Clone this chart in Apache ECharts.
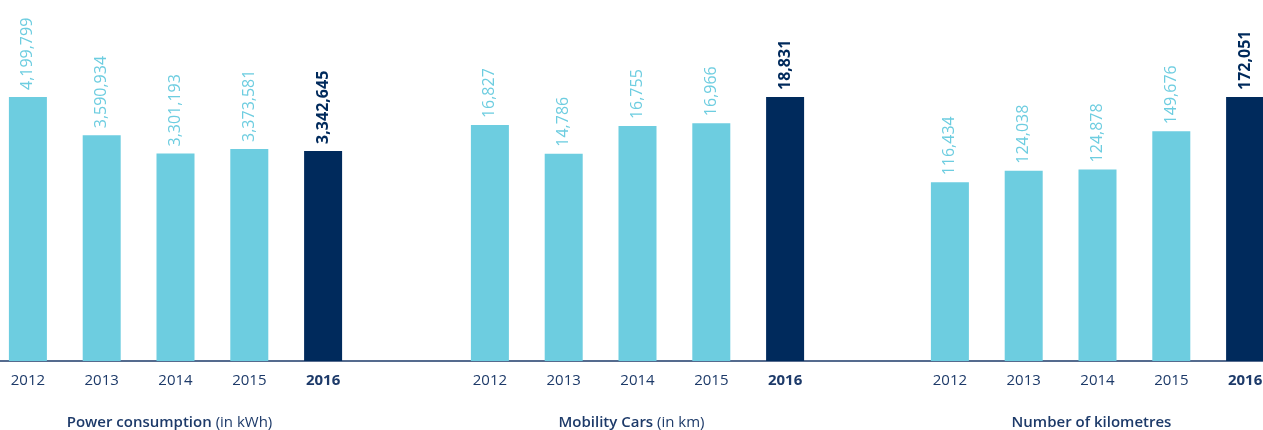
<!DOCTYPE html>
<html>
<head>
<meta charset="utf-8">
<script src="https://cdn.jsdelivr.net/npm/echarts@6/dist/echarts.min.js"></script>
<style>
html,body{margin:0;padding:0;background:#fff;}
#c{width:1263px;height:430px;}
</style>
</head>
<body>
<div id="c"></div>
<script>
const years = ['2012', '2013', '2014', '2015', '2016'];
const powerConsumption = [4199799, 3590934, 3301193, 3373581, 3342645];
const mobilityCars = [16827, 14786, 16755, 16966, 18831];
const numberOfKilometres = [116434, 124038, 124878, 149676, 172051];
const panelTitles = [
  ['Power consumption', ' (in kWh)'],
  ['Mobility Cars', ' (in km)'],
  ['Number of kilometres', '']
];

const LIGHT = '#6dcde0';
const DARK = '#002a5c';
const TEXT = '#1d3a69';
const FONT = '"Open Sans", "Noto Sans", sans-serif';

const panels = [powerConsumption, mobilityCars, numberOfKilometres];
const lefts = [-9, 453, 913];

const grid = [], xAxis = [], yAxis = [], series = [];
panels.forEach((vals, i) => {
  grid.push({left: lefts[i], top: 97, width: 369, height: 264, containLabel: false, outerBoundsMode: 'none'});
  xAxis.push({
    type: 'category', gridIndex: i, data: years,
    axisLine: {show: false}, axisTick: {show: false},
    axisLabel: {
      interval: 0, margin: 12, fontFamily: FONT, fontSize: 15, color: TEXT,
      formatter: (v, idx) => idx === years.length - 1 ? '{b|' + v + '}' : v,
      rich: {b: {fontWeight: 'bold', fontFamily: FONT, fontSize: 15, color: TEXT}}
    },
    name: '{m|' + panelTitles[i][0] + '}{r|' + panelTitles[i][1] + '}',
    nameLocation: 'middle', nameGap: 54,
    nameTextStyle: {
      padding: [0, 12, 0, 0],
      rich: {
        m: {fontFamily: FONT, fontSize: 15, fontWeight: 600, color: TEXT},
        r: {fontFamily: FONT, fontSize: 15, color: TEXT}
      }
    }
  });
  yAxis.push({type: 'value', gridIndex: i, min: 0, max: v => v.max, show: false, splitLine: {show: false}});
  series.push({
    type: 'bar', xAxisIndex: i, yAxisIndex: i, barWidth: 38, silent: true, clip: false,
    data: vals.map((v, k) => ({
      value: v,
      itemStyle: {color: k === vals.length - 1 ? DARK : LIGHT},
      label: k === vals.length - 1 ? {color: DARK, fontWeight: 'bold'} : {}
    })),
    label: {
      show: true, position: 'top', rotate: 90, distance: 7,
      align: 'left', verticalAlign: 'middle',
      fontFamily: FONT, fontSize: 16, color: LIGHT,
      formatter: p => p.value.toLocaleString('en-US')
    }
  });
});

// full-width baseline
grid.push({left: 0, right: 0, top: 97, height: 264, containLabel: false, outerBoundsMode: 'none'});
xAxis.push({type: 'value', gridIndex: 3, min: 0, max: 1,
  axisLine: {show: true, onZero: false, lineStyle: {color: TEXT, width: 1.5}},
  axisTick: {show: false}, axisLabel: {show: false}, splitLine: {show: false}});
yAxis.push({type: 'value', gridIndex: 3, show: false, splitLine: {show: false}});

const chart = echarts.init(document.getElementById('c'), null, {renderer: 'canvas'});
chart.setOption({animation: false, grid, xAxis, yAxis, series});
</script>
</body>
</html>
